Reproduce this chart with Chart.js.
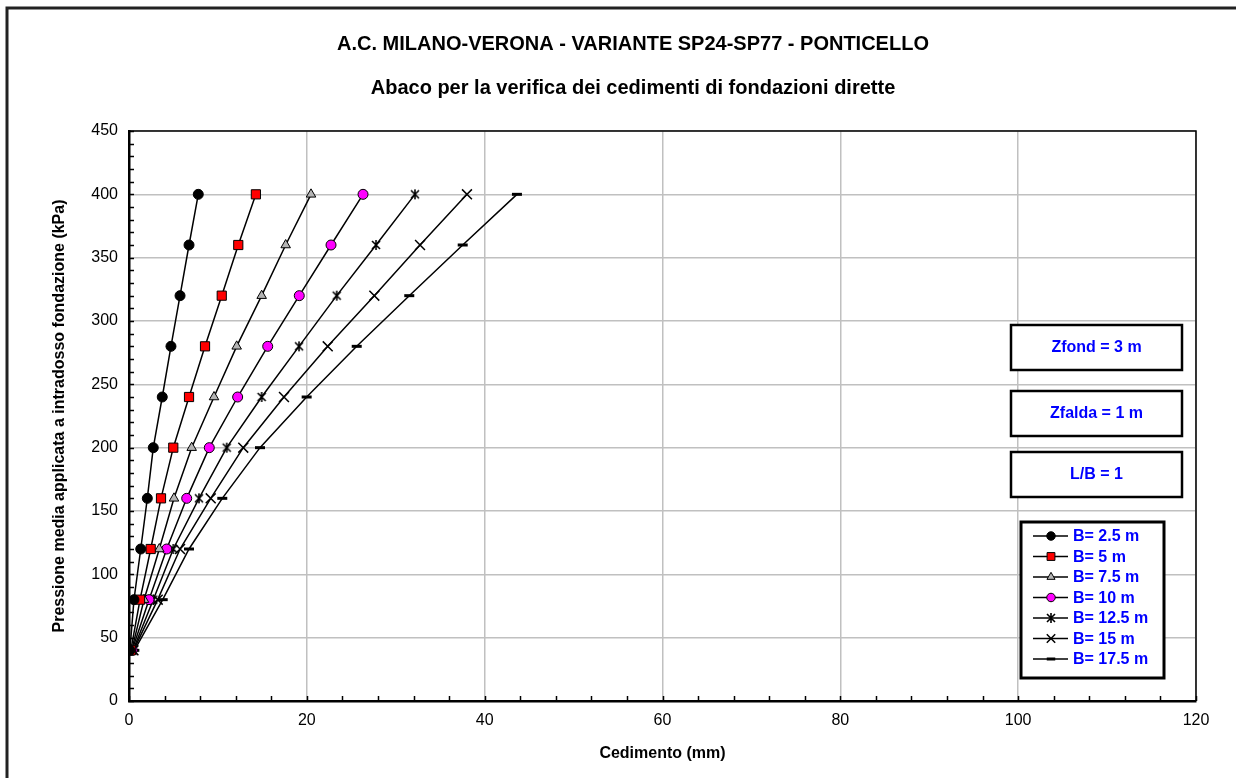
<!DOCTYPE html>
<html>
<head>
<meta charset="utf-8">
<script src="https://cdn.jsdelivr.net/npm/chart.js@4.4.0/dist/chart.umd.min.js"></script>
<style>
  html, body { margin: 0; padding: 0; background: #fff; }
  #wrap { width: 1236px; height: 778px; }
</style>
</head>
<body>
<div id="wrap"><canvas id="c" width="1236" height="778"></canvas></div>
<script>
// ---- data ----
const titleText = 'A.C. MILANO-VERONA - VARIANTE SP24-SP77 - PONTICELLO';
const subtitleText = 'Abaco per la verifica dei cedimenti di fondazioni dirette';
const xAxisTitle = 'Cedimento (mm)';
const yAxisTitle = 'Pressione media applicata a intradosso fondazione (kPa)';
const infoBoxes = ['Zfond = 3 m', 'Zfalda = 1 m', 'L/B = 1'];
const seriesNames = ['B= 2.5 m', 'B= 5 m', 'B= 7.5 m', 'B= 10 m', 'B= 12.5 m', 'B= 15 m', 'B= 17.5 m'];
const pressure = [40, 80, 120, 160, 200, 240, 280, 320, 360, 400];
const b25  = [0.10, 0.56, 1.32, 2.06, 2.73, 3.74, 4.72, 5.74, 6.75, 7.79];
const b5   = [0.20, 1.24, 2.44, 3.60, 4.98, 6.75, 8.55, 10.43, 12.29, 14.27];
const b75  = [0.30, 1.69, 3.41, 5.06, 7.05, 9.56, 12.11, 14.92, 17.62, 20.47];
const b10  = [0.35, 2.25, 4.24, 6.49, 9.03, 12.22, 15.60, 19.15, 22.72, 26.32];
const b125 = [0.45, 2.73, 4.98, 7.87, 10.99, 14.92, 19.12, 23.36, 27.78, 32.16];
const b15  = [0.50, 3.23, 5.74, 9.19, 12.85, 17.43, 22.35, 27.59, 32.73, 38.01];
const b175 = [0.60, 3.79, 6.75, 10.49, 14.73, 19.98, 25.61, 31.52, 37.53, 43.63];
const seriesValues = [b25, b5, b75, b10, b125, b15, b175];

// ---- marker images ----
function makeAsterisk(size) {
  const cv = document.createElement('canvas');
  cv.width = size; cv.height = size;
  const g = cv.getContext('2d');
  g.strokeStyle = '#000'; g.lineWidth = 1.6;
  const m = size / 2, r = size / 2 - 1;
  g.beginPath();
  g.moveTo(m, m - r); g.lineTo(m, m + r);
  g.moveTo(m - r * 0.8, m - r * 0.8); g.lineTo(m + r * 0.8, m + r * 0.8);
  g.moveTo(m + r * 0.8, m - r * 0.8); g.lineTo(m - r * 0.8, m + r * 0.8);
  g.stroke();
  return cv;
}
const asterisk = makeAsterisk(12);

const styles = [
  { pointStyle: 'circle',   radius: 5,   bg: '#000000', bw: 1 },
  { pointStyle: 'rect',     radius: 6.5, bg: '#ff0000', bw: 1 },
  { pointStyle: 'triangle', radius: 5.5, bg: '#b4b4b4', bw: 1 },
  { pointStyle: 'circle',   radius: 5,   bg: '#ff00ff', bw: 1 },
  { pointStyle: asterisk,   radius: 6,   bg: '#000000', bw: 1 },
  { pointStyle: 'crossRot', radius: 7,   bg: '#000000', bw: 1.5 },
  { pointStyle: 'line',     radius: 5,   bg: '#000000', bw: 3 }
];

const datasets = seriesNames.map((name, i) => ({
  label: name,
  data: seriesValues[i].map((v, k) => ({ x: v, y: pressure[k] })),
  showLine: true,
  borderColor: '#000',
  borderWidth: 1.5,
  pointStyle: styles[i].pointStyle,
  pointRadius: styles[i].radius,
  pointHoverRadius: styles[i].radius,
  pointBackgroundColor: styles[i].bg,
  pointBorderColor: '#000',
  pointBorderWidth: styles[i].bw
}));

const FONT = "'Liberation Sans', Arial, sans-serif";

const decor = {
  id: 'decor',
  beforeDraw(chart) {
    const ctx = chart.ctx;
    ctx.save();
    ctx.fillStyle = '#fff';
    ctx.fillRect(0, 0, chart.width, chart.height);
    ctx.restore();
  },
  beforeDatasetsDraw(chart) {
    const ctx = chart.ctx;
    const a = chart.chartArea;
    const xs = chart.scales.x, ys = chart.scales.y;
    ctx.save();
    // top/right border
    ctx.strokeStyle = '#000';
    ctx.lineWidth = 1.5;
    ctx.beginPath();
    ctx.moveTo(a.left, a.top); ctx.lineTo(a.right, a.top); ctx.lineTo(a.right, a.bottom);
    ctx.stroke();
    // inside ticks
    ctx.lineWidth = 1.5;
    ctx.beginPath();
    for (let v = 0; v <= 450; v += 10) {
      const py = Math.round(ys.getPixelForValue(v)) + 0.5;
      ctx.moveTo(a.left, py); ctx.lineTo(a.left + 5, py);
    }
    for (let v = 0; v <= 120; v += 4) {
      const px = Math.round(xs.getPixelForValue(v)) + 0.5;
      ctx.moveTo(px, a.bottom); ctx.lineTo(px, a.bottom - 5);
    }
    ctx.stroke();
    ctx.restore();
  },
  afterDraw(chart) {
    const ctx = chart.ctx;
    ctx.save();
    // outer frame
    ctx.strokeStyle = '#222';
    ctx.lineWidth = 3;
    ctx.beginPath();
    ctx.moveTo(7, 790); ctx.lineTo(7, 8); ctx.lineTo(1250, 8);
    ctx.stroke();
    // titles
    ctx.fillStyle = '#000';
    ctx.textAlign = 'center';
    ctx.textBaseline = 'middle';
    ctx.font = 'bold 20px ' + FONT;
    ctx.fillText(titleText, 633, 44);
    ctx.fillText(subtitleText, 633, 88);
    // info boxes
    const boxY = [325, 391, 452];
    infoBoxes.forEach((t, i) => {
      ctx.fillStyle = '#fff';
      ctx.fillRect(1011, boxY[i], 171, 45);
      ctx.strokeStyle = '#000';
      ctx.lineWidth = 2.5;
      ctx.strokeRect(1011, boxY[i], 171, 45);
      ctx.fillStyle = '#0000ff';
      ctx.font = 'bold 16px ' + FONT;
      ctx.fillText(t, 1096.5, boxY[i] + 23);
    });
    // legend
    ctx.fillStyle = '#fff';
    ctx.fillRect(1021, 522, 143, 156);
    ctx.strokeStyle = '#000';
    ctx.lineWidth = 3;
    ctx.strokeRect(1021, 522, 143, 156);
    ctx.textAlign = 'left';
    ctx.font = 'bold 16px ' + FONT;
    chart.data.datasets.forEach((ds, i) => {
      const y = 536 + i * 20.5;
      ctx.strokeStyle = '#000';
      ctx.lineWidth = 1.5;
      ctx.beginPath();
      ctx.moveTo(1033, y); ctx.lineTo(1068, y);
      ctx.stroke();
      ctx.fillStyle = ds.pointBackgroundColor;
      ctx.strokeStyle = '#000';
      ctx.lineWidth = ds.pointBorderWidth;
      const r = typeof ds.pointStyle === 'string' ? ds.pointRadius * 0.85 : ds.pointRadius;
      Chart.helpers.drawPoint(ctx, { pointStyle: ds.pointStyle, radius: r, borderWidth: ds.pointBorderWidth }, 1051, y);
      ctx.fillStyle = '#0000ff';
      ctx.fillText(ds.label, 1073, y + 1);
    });
    ctx.restore();
  }
};

new Chart(document.getElementById('c'), {
  type: 'scatter',
  data: { datasets },
  plugins: [decor],
  options: {
    responsive: false,
    animation: false,
    devicePixelRatio: 1,
    layout: { padding: { top: 131, right: 40, left: 0, bottom: 0 } },
    plugins: { legend: { display: false }, tooltip: { enabled: false }, title: { display: false } },
    scales: {
      x: {
        type: 'linear', min: 0, max: 120,
        afterFit(s) { s.height = 77; },
        ticks: { stepSize: 20, color: '#000', font: { family: FONT, size: 16 }, padding: 10, maxRotation: 0 },
        grid: { color: '#c0c0c0', lineWidth: 1.5, drawTicks: false },
        border: { color: '#000', width: 2.5 },
        title: { display: true, text: xAxisTitle, color: '#000', font: { family: FONT, size: 16, weight: 'bold' }, padding: { top: 0, bottom: 15 } }
      },
      y: {
        type: 'linear', min: 0, max: 450,
        afterFit(s) { s.width = 129; },
        ticks: { stepSize: 50, color: '#000', font: { family: FONT, size: 16 }, padding: 11 },
        grid: { color: '#c0c0c0', lineWidth: 1.5, drawTicks: false },
        border: { color: '#000', width: 2.5 },
        title: { display: true, text: yAxisTitle, color: '#000', font: { family: FONT, size: 16, weight: 'bold' }, padding: { top: 50, bottom: 0 } }
      }
    }
  }
});
</script>
</body>
</html>
